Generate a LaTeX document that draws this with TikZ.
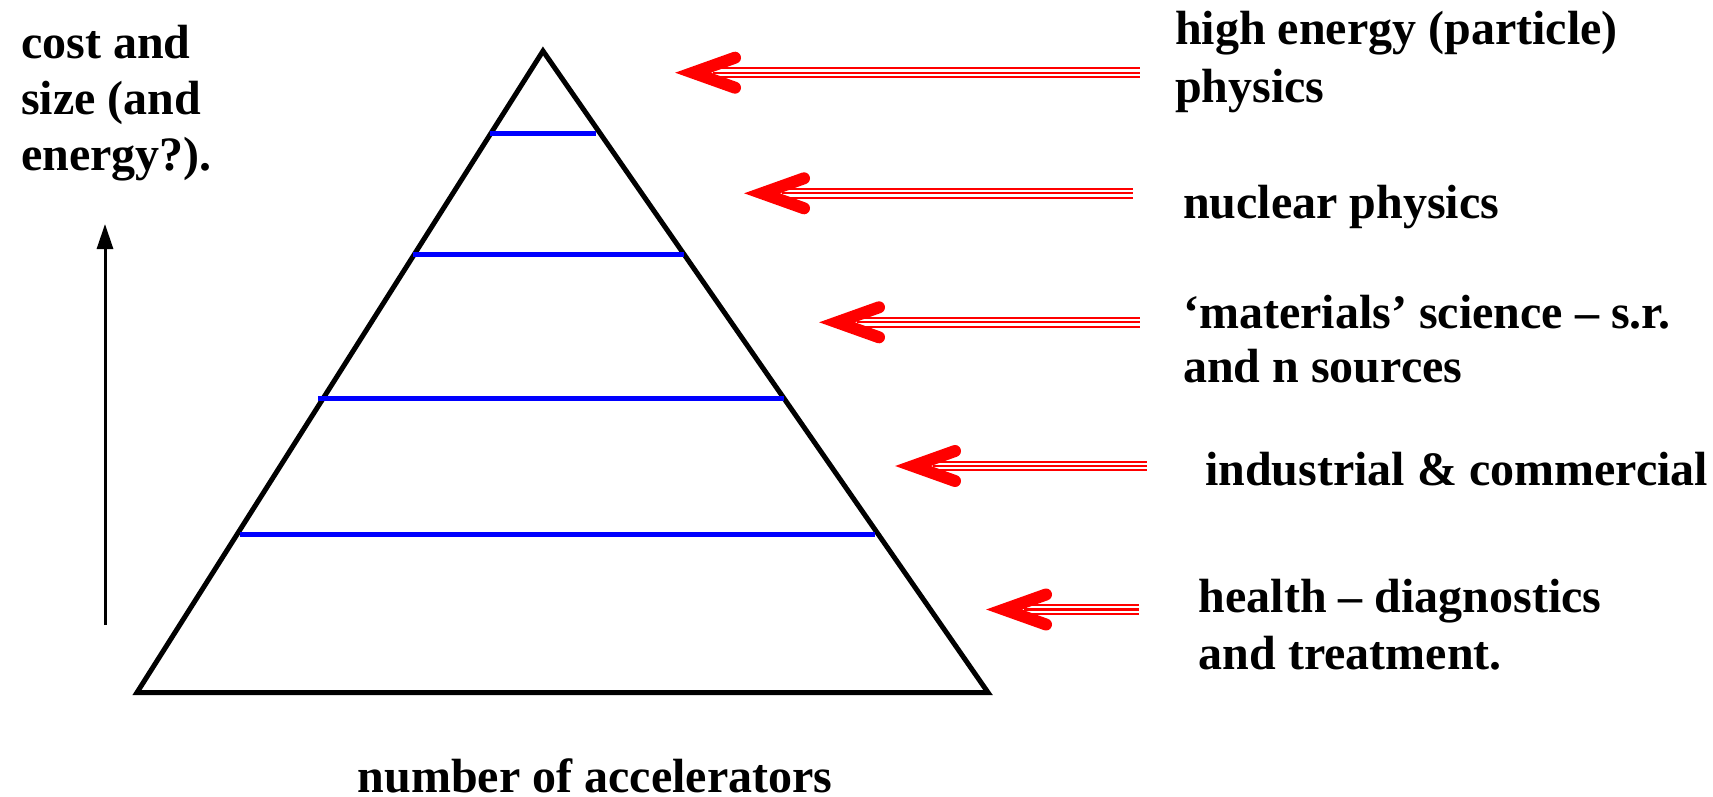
\documentclass[tikz,border=0pt]{standalone}
\usepackage{fontspec}
\setmainfont{Liberation Serif}
\usetikzlibrary{arrows.meta,calc}
\tikzset{
  lbl/.style={inner sep=0pt, anchor=base west, font=\fontsize{48}{60}\selectfont\bfseries},
  tri/.style={line width=5pt, line join=miter},
  band/.style={blue, line width=5pt},
  redhead/.style={red, line width=12pt, line cap=round},
}
\newcommand{\redarrow}[2]{%
  \draw[red, line width=10.8pt] ($(#1)+(38,0)$) -- (#2);
  \draw[white, line width=6.4pt] ($(#1)+(38,0)$) -- (#2);
  \draw[red, line width=2.2pt] ($(#1)+(38,0)$) -- (#2);
  \draw[redhead] ($(#1)+(60,-15)$) -- ($(#1)+(18,0)$) -- ($(#1)+(60,15)$);
}
\begin{document}
\begin{tikzpicture}[x=1pt,y=-1pt]
\useasboundingbox (0,0) rectangle (1713,797);
% pyramid
\coordinate (apex) at (543,51);
\coordinate (bl) at (137,692.5);
\coordinate (br) at (988,692.5);
\draw[tri] (apex) -- (br) -- (bl) -- cycle;
\draw[band] (489.5,133.3) -- (596,133.3);
\draw[band] (413,254.6) -- (684,254.6);
\draw[band] (318,398) -- (784,398);
\draw[band] (240,534.2) -- (875,534.2);
% vertical arrow
\coordinate (vlo) at (105,625);
\coordinate (vhi) at (105,224);
\draw[line width=3pt, -{Triangle[width=16pt,length=25pt]}] (vlo) -- (vhi);
% left labels
\node[lbl] (c1) at (21,59) {cost and};
\node[lbl] (c2) at (21,115) {size (and};
\node[lbl] (c3) at (21,171) {energy?).};
\node[lbl, anchor=base] (num) at (595,792) {number of accelerators};
% right labels
\node[lbl] (h1) at (1175,45) {high energy (particle)};
\node[lbl] (h2) at (1175,103) {physics};
\node[lbl] (n1) at (1183,218.5) {nuclear physics};
\node[lbl] (m1) at (1183,328) {‘materials’ science – s.r.};
\node[lbl] (m2) at (1183,382) {and n sources};
\node[lbl] (i1) at (1205,485) {industrial \& commercial};
\node[lbl] (d1) at (1198.5,612) {health – diagnostics};
\node[lbl] (d2) at (1198.5,669) {and treatment.};
% red arrows
\coordinate (t1) at (675,72.7);   \coordinate (e1) at (1140,72.7);
\coordinate (t2) at (744,193.3);  \coordinate (e2) at (1133,193.3);
\coordinate (t3) at (819,322.3);  \coordinate (e3) at (1140,322.3);
\coordinate (t4) at (895,466);    \coordinate (e4) at (1147,466);
\coordinate (t5) at (986,609.5);  \coordinate (e5) at (1139,609.5);
\redarrow{t1}{e1}
\redarrow{t2}{e2}
\redarrow{t3}{e3}
\redarrow{t4}{e4}
\redarrow{t5}{e5}
\end{tikzpicture}
\end{document}
